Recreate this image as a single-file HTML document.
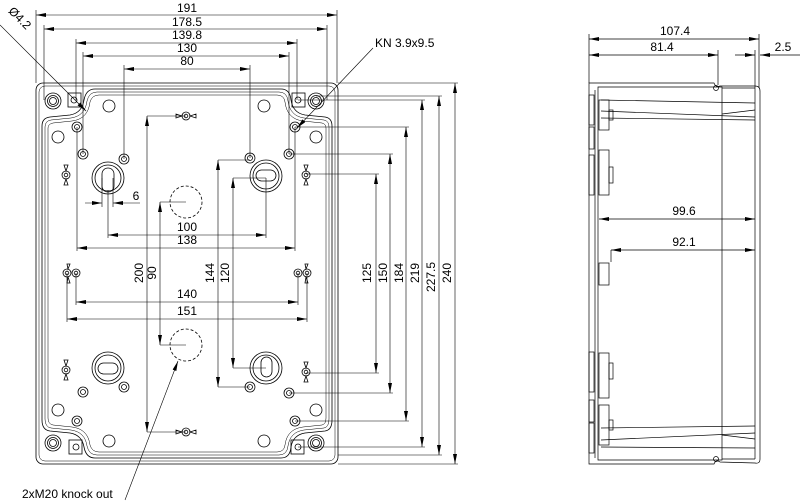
<!DOCTYPE html>
<html><head><meta charset="utf-8"><style>
html,body{margin:0;padding:0;background:#fff;width:800px;height:504px;overflow:hidden}
svg text{font-family:"Liberation Sans",sans-serif;font-size:12px;fill:#000}
</style></head><body>
<svg width="800" height="504" viewBox="0 0 800 504" xmlns="http://www.w3.org/2000/svg">
<defs>
<marker id="a" viewBox="0 0 10 4" refX="10" refY="2" markerWidth="10" markerHeight="4" orient="auto-start-reverse" markerUnits="userSpaceOnUse"><path d="M0,0L10,2L0,4z" fill="#000"/></marker>
</defs>
<g fill="none" stroke="#000" stroke-width="0.8">
<!-- front outer -->
<rect x="36" y="83" width="302" height="381" rx="7"/>
<rect x="39" y="86" width="296" height="375" rx="6" stroke-width="0.5"/>
<!-- inner seal profile -->
<path d="M95,89 H281 Q290,89 291,100 Q293,113 305,115 L325,117 Q332,118 332,126 V420 Q332,430 325,431 L305,433 Q293,435 291,447 Q290,458 281,458 H95 Q86,458 84,447 Q82,435 70,433 L50,431 Q42,430 42,420 V126 Q42,118 50,117 L70,115 Q82,113 84,100 Q86,89 95,89Z"/>
<path d="M97,92 H279 Q287,92 288,101 Q290,116 304,118 L324,120 Q329,121 329,127 V419 Q329,427 324,428 L304,430 Q290,432 288,446 Q287,455 279,455 H97 Q89,455 87,446 Q85,432 71,430 L51,428 Q45,427 45,419 V127 Q45,121 51,120 L71,118 Q85,116 87,101 Q89,92 97,92Z" stroke-width="0.5"/>
<path d="M99,95 H277 Q284,95 285,102 Q287,119 303,121 L322,123 Q326,124 326,128 V418 Q326,424 322,425 L303,427 Q287,429 285,445 Q284,452 277,452 H99 Q92,452 90,445 Q88,429 72,427 L53,425 Q48,424 48,418 V128 Q48,124 53,123 L72,121 Q88,119 90,102 Q92,95 99,95Z" stroke-width="0.5"/>
<!-- corner holes -->
<circle cx="53" cy="101" r="8"/><circle cx="53" cy="101" r="5.5"/><circle cx="53" cy="101" r="3.5"/>
<circle cx="316" cy="101" r="8"/><circle cx="316" cy="101" r="5.5"/><circle cx="316" cy="101" r="3.5"/>
<circle cx="53" cy="443" r="8"/><circle cx="53" cy="443" r="5.5"/><circle cx="53" cy="443" r="3.5"/>
<circle cx="316" cy="443" r="8"/><circle cx="316" cy="443" r="5.5"/><circle cx="316" cy="443" r="3.5"/>
<rect x="68" y="93" width="13" height="14"/><circle cx="74" cy="100" r="3"/>
<rect x="292" y="93" width="13" height="14"/><circle cx="298" cy="100" r="3"/>
<rect x="69" y="440" width="13" height="14"/><circle cx="76" cy="447" r="3"/>
<rect x="291" y="440" width="13" height="14"/><circle cx="298" cy="447" r="3"/>
<!-- plain circles -->
<circle cx="109" cy="106" r="6"/><circle cx="264" cy="106" r="6"/>
<circle cx="58" cy="137" r="6"/><circle cx="316" cy="137" r="6"/>
<circle cx="58" cy="410" r="6"/><circle cx="316" cy="410" r="6"/>
<circle cx="109" cy="441" r="6"/><circle cx="264" cy="441" r="6"/>
<!-- rings -->
<g>
<circle cx="77" cy="127" r="5"/><circle cx="77" cy="127" r="2.5"/>
<circle cx="295" cy="127" r="5"/><circle cx="295" cy="127" r="2.5"/>
<circle cx="83" cy="154" r="5"/><circle cx="83" cy="154" r="2.5"/>
<circle cx="124" cy="159" r="5"/><circle cx="124" cy="159" r="2.5"/>
<circle cx="250" cy="158" r="5"/><circle cx="250" cy="158" r="2.5"/>
<circle cx="289" cy="154" r="5"/><circle cx="289" cy="154" r="2.5"/>
<circle cx="83" cy="392" r="5"/><circle cx="83" cy="392" r="2.5"/>
<circle cx="124" cy="387" r="5"/><circle cx="124" cy="387" r="2.5"/>
<circle cx="250" cy="387" r="5"/><circle cx="250" cy="387" r="2.5"/>
<circle cx="289" cy="393" r="5"/><circle cx="289" cy="393" r="2.5"/>
<circle cx="77" cy="421" r="5"/><circle cx="77" cy="421" r="2.5"/>
<circle cx="295" cy="421" r="5"/><circle cx="295" cy="421" r="2.5"/>
</g>
<!-- keyhole bosses -->
<circle cx="108" cy="178" r="16"/><circle cx="108" cy="178" r="13"/><rect x="102" y="168" width="12" height="24" rx="6"/>
<circle cx="266" cy="176" r="16"/><circle cx="266" cy="176" r="13"/><rect x="256" y="170" width="20" height="11" rx="5.5"/>
<circle cx="108" cy="368" r="16"/><circle cx="108" cy="368" r="13"/><rect x="98" y="363" width="20" height="11" rx="5.5"/>
<circle cx="266" cy="368" r="16"/><circle cx="266" cy="368" r="13"/><rect x="261" y="357" width="11" height="20" rx="5.5"/>
<!-- knock outs -->
<circle cx="186" cy="202" r="16" stroke-dasharray="3,2"/>
<circle cx="186" cy="345" r="16" stroke-dasharray="3,2"/>
<!-- wing nuts -->
<g id="wh"><circle cx="186" cy="116" r="4"/><circle cx="186" cy="116" r="1.8"/><path d="M182,116 L176,114 V118 Z M190,116 L196,114 V118 Z"/></g>
<g><circle cx="186" cy="432" r="4"/><circle cx="186" cy="432" r="1.8"/><path d="M182,432 L176,430 V434 Z M190,432 L196,430 V434 Z"/></g>
<g><circle cx="66" cy="175" r="4"/><circle cx="66" cy="175" r="1.8"/><path d="M66,171 L64,165 H68 Z M66,179 L64,185 H68 Z"/></g>
<g><circle cx="306" cy="175" r="4"/><circle cx="306" cy="175" r="1.8"/><path d="M306,171 L304,165 H308 Z M306,179 L304,185 H308 Z"/></g>
<g><circle cx="66" cy="370" r="4"/><circle cx="66" cy="370" r="1.8"/><path d="M66,366 L64,360 H68 Z M66,374 L64,380 H68 Z"/></g>
<g><circle cx="306" cy="372" r="4"/><circle cx="306" cy="372" r="1.8"/><path d="M306,368 L304,362 H308 Z M306,376 L304,382 H308 Z"/></g>
<g><circle cx="67" cy="273" r="4"/><circle cx="76" cy="273" r="4"/><circle cx="67" cy="273" r="1.8"/><circle cx="76" cy="273" r="1.8"/><path d="M68,269 L67,264 H70 Z M68,277 L67,283 H70 Z"/></g>
<g><circle cx="298" cy="273" r="4"/><circle cx="307" cy="273" r="4"/><circle cx="298" cy="273" r="1.8"/><circle cx="307" cy="273" r="1.8"/><path d="M306,269 L305,264 H308 Z M306,277 L305,283 H308 Z"/></g>
</g>
<!-- dimensions -->
<g fill="none" stroke="#000" stroke-width="0.6">
<line x1="36" y1="10" x2="36" y2="83"/><line x1="337" y1="10" x2="337" y2="83"/>
<line x1="36" y1="15" x2="337" y2="15" marker-start="url(#a)" marker-end="url(#a)"/>
<line x1="44" y1="25" x2="44" y2="100"/><line x1="327" y1="25" x2="327" y2="100"/>
<line x1="44" y1="29" x2="327" y2="29" marker-start="url(#a)" marker-end="url(#a)"/>
<line x1="76" y1="39" x2="76" y2="100"/><line x1="297" y1="39" x2="297" y2="100"/>
<line x1="76" y1="43" x2="297" y2="43" marker-start="url(#a)" marker-end="url(#a)"/>
<line x1="83" y1="52" x2="83" y2="154"/><line x1="289" y1="52" x2="289" y2="154"/>
<line x1="83" y1="56" x2="289" y2="56" marker-start="url(#a)" marker-end="url(#a)"/>
<line x1="124" y1="65" x2="124" y2="159"/><line x1="250" y1="65" x2="250" y2="158"/>
<line x1="124" y1="69" x2="250" y2="69" marker-start="url(#a)" marker-end="url(#a)"/>
<!-- right verticals -->
<line x1="338" y1="83" x2="458" y2="83"/><line x1="455" y1="83" x2="455" y2="464" marker-start="url(#a)" marker-end="url(#a)"/><line x1="338" y1="464" x2="458" y2="464"/>
<line x1="316" y1="96" x2="442" y2="96"/><line x1="439" y1="96" x2="439" y2="455" marker-start="url(#a)" marker-end="url(#a)"/><line x1="338" y1="455" x2="442" y2="455"/>
<line x1="298" y1="100" x2="425" y2="100"/><line x1="422" y1="100" x2="422" y2="447" marker-start="url(#a)" marker-end="url(#a)"/><line x1="298" y1="447" x2="425" y2="447"/>
<line x1="295" y1="127" x2="409" y2="127"/><line x1="406" y1="127" x2="406" y2="421" marker-start="url(#a)" marker-end="url(#a)"/><line x1="295" y1="421" x2="409" y2="421"/>
<line x1="289" y1="154" x2="393" y2="154"/><line x1="390" y1="154" x2="390" y2="393" marker-start="url(#a)" marker-end="url(#a)"/><line x1="289" y1="393" x2="393" y2="393"/>
<line x1="306" y1="174" x2="379" y2="174"/><line x1="376" y1="174" x2="376" y2="373" marker-start="url(#a)" marker-end="url(#a)"/><line x1="306" y1="373" x2="379" y2="373"/>
<!-- inner verticals -->
<line x1="147" y1="116" x2="186" y2="116"/><line x1="147" y1="116" x2="147" y2="432" marker-start="url(#a)" marker-end="url(#a)"/><line x1="147" y1="432" x2="186" y2="432"/>
<line x1="160" y1="202" x2="186" y2="202"/><line x1="160" y1="202" x2="160" y2="345" marker-start="url(#a)" marker-end="url(#a)"/><line x1="160" y1="345" x2="186" y2="345"/>
<line x1="218" y1="160" x2="250" y2="160"/><line x1="218" y1="160" x2="218" y2="387" marker-start="url(#a)" marker-end="url(#a)"/><line x1="218" y1="387" x2="250" y2="387"/>
<line x1="233" y1="178" x2="266" y2="178"/><line x1="233" y1="178" x2="233" y2="368" marker-start="url(#a)" marker-end="url(#a)"/><line x1="233" y1="368" x2="266" y2="368"/>
<!-- horizontals -->
<line x1="102" y1="178" x2="102" y2="207"/><line x1="113" y1="178" x2="113" y2="207"/>
<line x1="85" y1="203" x2="102" y2="203" marker-end="url(#a)"/><line x1="113" y1="203" x2="140" y2="203" marker-start="url(#a)"/>
<line x1="108" y1="190" x2="108" y2="238"/><line x1="266" y1="178" x2="266" y2="238"/>
<line x1="108" y1="235" x2="266" y2="235" marker-start="url(#a)" marker-end="url(#a)"/>
<line x1="77" y1="127" x2="77" y2="251"/><line x1="295" y1="127" x2="295" y2="251"/>
<line x1="77" y1="248" x2="295" y2="248" marker-start="url(#a)" marker-end="url(#a)"/>
<line x1="76" y1="273" x2="76" y2="305"/><line x1="298" y1="273" x2="298" y2="305"/>
<line x1="76" y1="302" x2="298" y2="302" marker-start="url(#a)" marker-end="url(#a)"/>
<line x1="67" y1="273" x2="67" y2="322"/><line x1="307" y1="273" x2="307" y2="322"/>
<line x1="67" y1="319" x2="307" y2="319" marker-start="url(#a)" marker-end="url(#a)"/>
<!-- leaders -->
<line x1="0" y1="25" x2="86" y2="111" marker-end="url(#a)"/>
<line x1="373" y1="48" x2="297" y2="128" marker-end="url(#a)"/>
<line x1="125" y1="500" x2="178" y2="361" marker-end="url(#a)"/>
</g>
<g text-anchor="middle">
<text x="187" y="12">191</text><text x="187" y="26">178.5</text><text x="187" y="39">139.8</text><text x="187" y="52">130</text><text x="187" y="65">80</text>
<text x="136" y="200">6</text><text x="187" y="231">100</text><text x="187" y="244">138</text><text x="187" y="298">140</text><text x="187" y="315">151</text>
<text transform="translate(143,273) rotate(-90)">200</text><text transform="translate(156,273) rotate(-90)">90</text>
<text transform="translate(214,273) rotate(-90)">144</text><text transform="translate(229,273) rotate(-90)">120</text>
<text transform="translate(371,273) rotate(-90)">125</text><text transform="translate(387,273) rotate(-90)">150</text>
<text transform="translate(403,273) rotate(-90)">184</text><text transform="translate(419,273) rotate(-90)">219</text>
<text transform="translate(435,277) rotate(-90)">227.5</text><text transform="translate(451,273) rotate(-90)">240</text>
<text transform="translate(17,21) rotate(45)">Ø4.2</text>
<text x="675" y="35">107.4</text><text x="662" y="51">81.4</text><text x="783" y="51">2.5</text>
<text x="684" y="215">99.6</text><text x="684" y="246">92.1</text>
</g>
<text x="375" y="47">KN 3.9x9.5</text>
<text x="22" y="498">2xM20 knock out</text>
<!-- side view -->
<g fill="none" stroke="#000" stroke-width="0.7">
<line x1="589" y1="34" x2="589" y2="83"/><line x1="759" y1="34" x2="759" y2="88"/><line x1="718" y1="50" x2="718" y2="85"/>
<line x1="589" y1="39" x2="759" y2="39" marker-start="url(#a)" marker-end="url(#a)"/>
<line x1="589" y1="55" x2="718" y2="55" marker-start="url(#a)" marker-end="url(#a)"/>
<line x1="735" y1="55" x2="755" y2="55" marker-end="url(#a)"/><line x1="800" y1="55" x2="760" y2="55" marker-end="url(#a)"/><line x1="755" y1="50" x2="755" y2="88"/>
<line x1="599" y1="219" x2="755" y2="219" marker-start="url(#a)" marker-end="url(#a)"/>
<line x1="611" y1="250" x2="755" y2="250" marker-start="url(#a)" marker-end="url(#a)"/>
<line x1="611" y1="250" x2="611" y2="262"/>
<path d="M589,83 H714 Q716,88 720,86 L755,86 Q760,86 760,91 V459 Q760,464 755,463 L720,462 Q716,459 714,464 H589 Z"/>
<path d="M598,87 H722 V460 H598 Z"/>
<line x1="722" y1="88" x2="755" y2="88"/><line x1="755" y1="88" x2="755" y2="459"/><line x1="722" y1="459" x2="755" y2="459"/>
<circle cx="716" cy="88" r="2.5"/><circle cx="716" cy="459" r="2.5"/>
<line x1="595" y1="90" x2="595" y2="458"/>
<line x1="601" y1="100" x2="755" y2="103"/><line x1="601" y1="111" x2="755" y2="117"/><line x1="601" y1="118" x2="755" y2="120"/>
<line x1="722" y1="114" x2="755" y2="110"/>
<line x1="601" y1="428" x2="755" y2="426"/><line x1="601" y1="440" x2="755" y2="433"/><line x1="601" y1="447" x2="755" y2="448"/>
<line x1="722" y1="435" x2="755" y2="439"/>
<rect x="589" y="95" width="5" height="30"/><rect x="589" y="127" width="5" height="22"/><rect x="589" y="155" width="5" height="40"/>
<rect x="599" y="100" width="10" height="30"/><rect x="609" y="110" width="4" height="10"/>
<rect x="599" y="150" width="10" height="45"/><rect x="609" y="167" width="4" height="16"/>
<rect x="599" y="263" width="10" height="22"/>
<rect x="589" y="352" width="5" height="40"/><rect x="589" y="400" width="5" height="22"/><rect x="589" y="423" width="5" height="30"/>
<rect x="599" y="353" width="10" height="45"/><rect x="609" y="363" width="4" height="16"/>
<rect x="599" y="405" width="10" height="40"/><rect x="609" y="420" width="4" height="10"/>
</g>
</svg>
</body></html>
